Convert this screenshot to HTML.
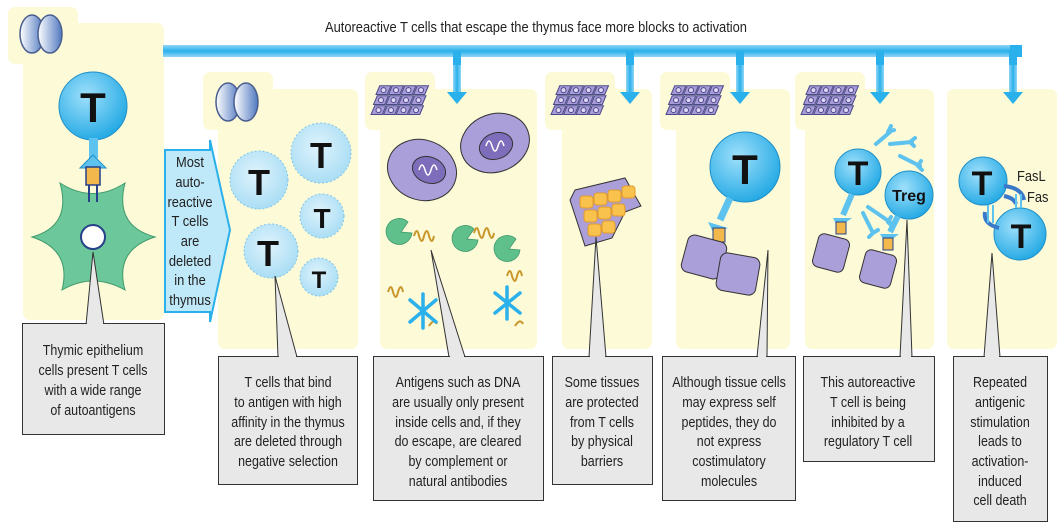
<!DOCTYPE html>
<html><head><meta charset="utf-8"><style>
html,body{margin:0;padding:0;background:#fff;width:1064px;height:530px;overflow:hidden}
svg{display:block}
.t{font-family:"Liberation Sans",sans-serif;font-size:14.5px;fill:#222;text-anchor:middle}
.T{font-family:"Liberation Sans",sans-serif;font-weight:bold;fill:#111;text-anchor:middle}
</style></head><body>
<svg width="1064" height="530" viewBox="0 0 1064 530">
<defs>
<radialGradient id="cell" cx="40%" cy="35%" r="70%"><stop offset="0" stop-color="#9fe0fb"/><stop offset="1" stop-color="#1fa7e3"/></radialGradient>
<radialGradient id="pale" cx="45%" cy="40%" r="65%"><stop offset="0" stop-color="#dff3fc"/><stop offset="1" stop-color="#a6dcf4"/></radialGradient>
<linearGradient id="lobe" x1="0" x2="1"><stop offset="0" stop-color="#fff"/><stop offset="1" stop-color="#4f78c0"/></linearGradient>
<linearGradient id="bar" x1="0" y1="0" x2="0" y2="1"><stop offset="0" stop-color="#8fd6f7"/><stop offset="0.5" stop-color="#2ab0ea"/><stop offset="1" stop-color="#8fd6f7"/></linearGradient>
<linearGradient id="varr" x1="0" x2="1"><stop offset="0" stop-color="#8fd6f7"/><stop offset="0.5" stop-color="#2ab0ea"/><stop offset="1" stop-color="#8fd6f7"/></linearGradient>
<g id="thy"><ellipse cx="-9" cy="0" rx="12" ry="19" fill="url(#lobe)" stroke="#4a5f8f" stroke-width="1.5"/><ellipse cx="9" cy="0" rx="12" ry="19" fill="url(#lobe)" stroke="#4a5f8f" stroke-width="1.5"/></g>
<g id="cellrow" fill="#a99bd8" stroke="#4a4a8a" stroke-width="0.8">
<path d="M3,0 L12,0 L9,7 L0,7Z"/><circle cx="6" cy="3.5" r="2" fill="#ddd6f4"/>
<path d="M13,0 L22,0 L19,7 L10,7Z"/><circle cx="16" cy="3.5" r="2" fill="#ddd6f4"/>
<path d="M23,0 L32,0 L29,7 L20,7Z"/><circle cx="26" cy="3.5" r="2" fill="#ddd6f4"/>
<path d="M33,0 L42,0 L39,7 L30,7Z"/><circle cx="36" cy="3.5" r="2" fill="#ddd6f4"/>
</g>
<g id="tis0"><use href="#cellrow" x="-20" y="-13"/><use href="#cellrow" x="-22" y="-5"/><use href="#cellrow" x="-24" y="3"/></g>
<g id="tis"><use href="#tis0" transform="scale(1.25)"/></g>
<g id="darr"><rect x="-4" y="-10" width="8" height="40" fill="url(#varr)"/><path d="M-10,28 L10,28 L0,40z" fill="#2ab0ea"/></g>
</defs>

<g fill="#fdfad8">
<rect x="23" y="23" width="141" height="297" rx="7"/>
<rect x="8" y="7" width="70" height="57" rx="7"/>
<rect x="218" y="89" width="140" height="260" rx="7"/>
<rect x="203" y="72" width="70" height="58" rx="7"/>
<rect x="380" y="89" width="157" height="260" rx="7"/>
<rect x="365" y="72" width="70" height="58" rx="7"/>
<rect x="562" y="89" width="90" height="260" rx="7"/>
<rect x="545" y="72" width="70" height="58" rx="7"/>
<rect x="676" y="89" width="114" height="260" rx="7"/>
<rect x="660" y="72" width="70" height="58" rx="7"/>
<rect x="805" y="89" width="129" height="260" rx="7"/>
<rect x="795" y="72" width="70" height="58" rx="7"/>
<rect x="947" y="89" width="110" height="260" rx="7"/>
</g>
<use href="#thy" x="41" y="34"/>
<use href="#thy" x="237" y="102"/>
<use href="#tis" x="401" y="102"/>
<use href="#tis" x="581" y="102"/>
<use href="#tis" x="696" y="102"/>
<use href="#tis" x="831" y="102"/>

<g transform="translate(536,32) scale(0.86,1)"><text x="0" y="0" class="t" style="font-size:15px">Autoreactive T cells that escape the thymus face more blocks to activation</text></g>
<rect x="163" y="45" width="853" height="12" fill="url(#bar)"/>
<rect x="1010" y="45" width="12" height="12" fill="#2ab0ea"/>
<use href="#darr" x="457" y="64"/>
<use href="#darr" x="630" y="64"/>
<use href="#darr" x="740" y="64"/>
<use href="#darr" x="880" y="64"/>
<use href="#darr" x="1013" y="64"/>
<g fill="#2ab0ea"><rect x="453" y="51" width="8" height="14"/><rect x="626" y="51" width="8" height="14"/><rect x="736" y="51" width="8" height="14"/><rect x="876" y="51" width="8" height="14"/><rect x="1009" y="51" width="8" height="14"/></g>

<path d="M32,237 Q72,226 60,183 Q93,204 125,183 Q114,226 155,237 Q114,250 125,290 Q93,272 62,290 Q72,250 32,237Z" fill="#6cc79a" stroke="#3f9a6c" stroke-width="1"/>
<circle cx="93" cy="237" r="12" fill="#fff" stroke="#26418a" stroke-width="2"/>
<circle cx="93" cy="106" r="34" fill="url(#cell)" stroke="#1f90c8"/>
<text x="93" y="122" class="T" style="font-size:42px">T</text>
<rect x="89" y="138" width="9" height="20" fill="#5dc3ee"/>
<path d="M80,168 L93,155 L106,168z" fill="#5dc3ee" stroke="#1f90c8"/>
<rect x="86" y="167" width="14" height="18" fill="#f2b84b" stroke="#26418a" stroke-width="1.5"/>
<path d="M89,185 v17 M97,185 v17" stroke="#26418a" stroke-width="2"/>
<path d="M165,150 L210,150 L210,140 L230,230 L210,322 L210,312 L165,312z" fill="#bfe8f9" stroke="#2ab0ea" stroke-width="2"/>
<g transform="translate(190,0) scale(0.86,1)" class="t" style="font-size:15px"><text x="0" y="167">Most</text><text x="0" y="187">auto-</text><text x="0" y="207">reactive</text><text x="0" y="226">T cells</text><text x="0" y="246">are</text><text x="0" y="266">deleted</text><text x="0" y="285">in the</text><text x="0" y="305">thymus</text></g>

<g fill="url(#pale)" stroke="#7fc6ea" stroke-dasharray="2 2">
<circle cx="259" cy="180" r="29"/><circle cx="321" cy="153" r="30"/><circle cx="322" cy="216" r="22"/><circle cx="271" cy="251" r="27"/><circle cx="319" cy="277" r="19"/>
</g>
<g class="T"><text x="259" y="195" style="font-size:36px">T</text><text x="321" y="168" style="font-size:36px">T</text><text x="322" y="228" style="font-size:28px">T</text><text x="268" y="266" style="font-size:36px">T</text><text x="319" y="288" style="font-size:24px">T</text></g>

<ellipse cx="422" cy="170" rx="35" ry="30" fill="#ab9fd9" stroke="#333" transform="rotate(20 422 170)"/>
<ellipse cx="429" cy="170" rx="17" ry="13" fill="#7e6dbb" stroke="#333" transform="rotate(20 429 170)"/>
<ellipse cx="495" cy="143" rx="35" ry="29" fill="#ab9fd9" stroke="#333" transform="rotate(-20 495 143)"/>
<ellipse cx="496" cy="146" rx="17" ry="13" fill="#7e6dbb" stroke="#333" transform="rotate(-20 496 146)"/>
<path d="M419,170 q3,-10 6,0 q3,10 6,0 q3,-10 6,0" stroke="#fff" fill="none" stroke-width="1.5"/>
<path d="M486,146 q3,-10 6,0 q3,10 6,0 q3,-10 6,0" stroke="#fff" fill="none" stroke-width="1.5"/>
<g fill="#5fc08c" stroke="#3f9a6c" stroke-width="0.8"><path d="M412,233 A13,13 0 1 1 408,222 L401,232Z"/><path d="M478,240 A13,13 0 1 1 474,229 L467,239Z"/><path d="M520,250 A13,13 0 1 1 516,239 L509,249Z"/></g>
<g stroke="#c9962b" fill="none" stroke-width="2"><path d="M414,236 q3,-10 5,0 q3,10 5,0 q3,-10 5,0 q3,10 5,0"/><path d="M474,233 q3,-10 5,0 q3,10 5,0 q3,-10 5,0 q3,10 5,0"/><path d="M388,292 q3,-10 5,0 q3,10 5,0 q3,-10 5,0"/><path d="M507,276 q3,-10 5,0 q3,10 5,0 q3,-10 5,0"/><path d="M429,326 q5,-8 8,-2 M515,326 q5,-8 8,-2"/></g>
<g stroke="#2ab0ea" stroke-width="3.5" stroke-linecap="round"><path d="M410,300 L436,322 M436,300 L410,322 M423,294 V328"/><path d="M495,293 L520,313 M520,293 L495,313 M507,287 V319"/></g>

<path d="M575,190 L625,178 L641,206 L625,212 L612,238 L585,246 L570,200z" fill="#ab9fd9" stroke="#333"/>
<g fill="#f8c24d" stroke="#e29a2a"><rect x="580" y="196" width="13" height="12" rx="3"/><rect x="594" y="193" width="13" height="12" rx="3"/><rect x="608" y="190" width="13" height="12" rx="3"/><rect x="622" y="186" width="13" height="12" rx="3"/><rect x="584" y="210" width="13" height="12" rx="3"/><rect x="598" y="207" width="13" height="12" rx="3"/><rect x="612" y="204" width="13" height="12" rx="3"/><rect x="588" y="224" width="13" height="12" rx="3"/><rect x="602" y="221" width="13" height="12" rx="3"/></g>

<circle cx="745" cy="167" r="35" fill="url(#cell)" stroke="#1f90c8"/>
<text x="745" y="184" class="T" style="font-size:42px">T</text>
<path d="M730,198 L720,220" stroke="#5dc3ee" stroke-width="7"/>
<path d="M708,222 L728,228 L714,234z" fill="#5dc3ee"/>
<rect x="713" y="228" width="12" height="14" fill="#f2b84b" stroke="#26418a"/>
<rect x="684" y="238" width="40" height="38" rx="7" fill="#ab9fd9" stroke="#333" transform="rotate(15 704 257)"/>
<rect x="718" y="255" width="40" height="38" rx="7" fill="#ab9fd9" stroke="#333" transform="rotate(10 738 274)"/>

<circle cx="858" cy="172" r="23" fill="url(#cell)" stroke="#1f90c8"/>
<text x="858" y="185" class="T" style="font-size:34px">T</text>
<circle cx="909" cy="195" r="24" fill="url(#cell)" stroke="#1f90c8"/>
<text x="909" y="201" class="T" style="font-size:16px">Treg</text>
<g stroke="#5dc3ee" stroke-width="4" fill="none" stroke-linecap="round"><path d="M876,144 l14,-12 M888,132 l6,-2 M888,132 l3,-6"/><path d="M890,144 l22,-2 M910,142 l5,-4 M910,142 l4,4"/><path d="M900,156 l20,10 M918,166 l3,-5 M918,166 l4,4"/><path d="M868,207 l22,15 M888,222 l3,-5 M888,222 l4,4"/><path d="M863,213 l10,20 M873,233 l5,-3 M873,233 l-4,4"/></g>
<path d="M852,194 L843,215" stroke="#5dc3ee" stroke-width="6"/><path d="M833,218 L852,218 L838,228z" fill="#5dc3ee"/>
<rect x="836" y="222" width="10" height="12" fill="#f2b84b" stroke="#26418a"/>
<rect x="815" y="236" width="32" height="34" rx="6" fill="#ab9fd9" stroke="#333" transform="rotate(15 831 253)"/>
<path d="M898,216 L890,232" stroke="#5dc3ee" stroke-width="6"/><path d="M880,234 L899,234 L886,244z" fill="#5dc3ee"/>
<rect x="883" y="238" width="10" height="12" fill="#f2b84b" stroke="#26418a"/>
<rect x="862" y="252" width="32" height="34" rx="6" fill="#ab9fd9" stroke="#333" transform="rotate(15 878 269)"/>

<circle cx="983" cy="181" r="24" fill="url(#cell)" stroke="#1f90c8"/>
<text x="982" y="195" class="T" style="font-size:34px">T</text>
<circle cx="1020" cy="234" r="26" fill="url(#cell)" stroke="#1f90c8"/>
<text x="1021" y="248" class="T" style="font-size:34px">T</text>
<g stroke="#3a78c9" stroke-width="4" fill="none"><path d="M1004,186 q18,2 20,14"/><path d="M1004,196 q10,2 12,8"/><path d="M985,212 q-2,12 14,16"/></g>
<g stroke="#5dc3ee" stroke-width="2"><path d="M988,205 v18 M993,205 v18 M1016,194 v14 M1021,194 v14"/></g>
<g transform="translate(1017,181) scale(0.86,1)"><text x="0" y="0" class="t" style="font-size:15px;text-anchor:start">FasL</text></g>
<g transform="translate(1027,202) scale(0.86,1)"><text x="0" y="0" class="t" style="font-size:15px;text-anchor:start">Fas</text></g>

<g fill="#e8e8e8" stroke="#333" stroke-width="1">
<path d="M86,325 L93,252 L104,325z"/>
<path d="M278,357 L275,276 L297,357z"/>
<path d="M449,357 L431,250 L465,357z"/>
<path d="M589,357 L596,237 L606,357z"/>
<path d="M757,357 L768,250 L767,357z"/>
<path d="M900,357 L907,220 L912,357z"/>
<path d="M984,357 L992,253 L1000,357z"/>
</g>

<g fill="#e8e8e8" stroke="#333" stroke-width="1">
<rect x="22.5" y="323.5" width="142" height="111"/>
<rect x="218.5" y="356.5" width="139" height="128"/>
<rect x="373.5" y="356.5" width="170" height="144"/>
<rect x="552.5" y="356.5" width="100" height="128"/>
<rect x="662.5" y="356.5" width="133" height="144"/>
<rect x="803.5" y="356.5" width="131" height="105"/>
<rect x="953.5" y="356.5" width="94" height="165"/>
</g>
<g fill="#e8e8e8"><rect x="87" y="322" width="16" height="3"/><rect x="279" y="355" width="17" height="3"/><rect x="450" y="355" width="14" height="3"/><rect x="590" y="355" width="15" height="3"/><rect x="758" y="355" width="8" height="3"/><rect x="901" y="355" width="10" height="3"/><rect x="985" y="355" width="14" height="3"/></g>
<g class="t">
<g transform="translate(93,0) scale(0.86,1)"><text x="0" y="355">Thymic epithelium</text><text x="0" y="375">cells present T cells</text><text x="0" y="395">with a wide range</text><text x="0" y="415">of autoantigens</text></g>
<g transform="translate(288,0) scale(0.86,1)"><text x="0" y="387">T cells that bind</text><text x="0" y="407">to antigen with high</text><text x="0" y="427">affinity in the thymus</text><text x="0" y="446">are deleted through</text><text x="0" y="466">negative selection</text></g>
<g transform="translate(458,0) scale(0.86,1)"><text x="0" y="387">Antigens such as DNA</text><text x="0" y="407">are usually only present</text><text x="0" y="427">inside cells and, if they</text><text x="0" y="446">do escape, are cleared</text><text x="0" y="466">by complement or</text><text x="0" y="486">natural antibodies</text></g>
<g transform="translate(602,0) scale(0.86,1)"><text x="0" y="387">Some tissues</text><text x="0" y="407">are protected</text><text x="0" y="427">from T cells</text><text x="0" y="446">by physical</text><text x="0" y="466">barriers</text></g>
<g transform="translate(729,0) scale(0.86,1)"><text x="0" y="387">Although tissue cells</text><text x="0" y="407">may express self</text><text x="0" y="427">peptides, they do</text><text x="0" y="446">not express</text><text x="0" y="466">costimulatory</text><text x="0" y="486">molecules</text></g>
<g transform="translate(868,0) scale(0.86,1)"><text x="0" y="387">This autoreactive</text><text x="0" y="407">T cell is being</text><text x="0" y="427">inhibited by a</text><text x="0" y="446">regulatory T cell</text></g>
<g transform="translate(1000,0) scale(0.86,1)"><text x="0" y="387">Repeated</text><text x="0" y="407">antigenic</text><text x="0" y="427">stimulation</text><text x="0" y="446">leads to</text><text x="0" y="466">activation-</text><text x="0" y="486">induced</text><text x="0" y="505">cell death</text></g>
</g>
</svg>
</body></html>
